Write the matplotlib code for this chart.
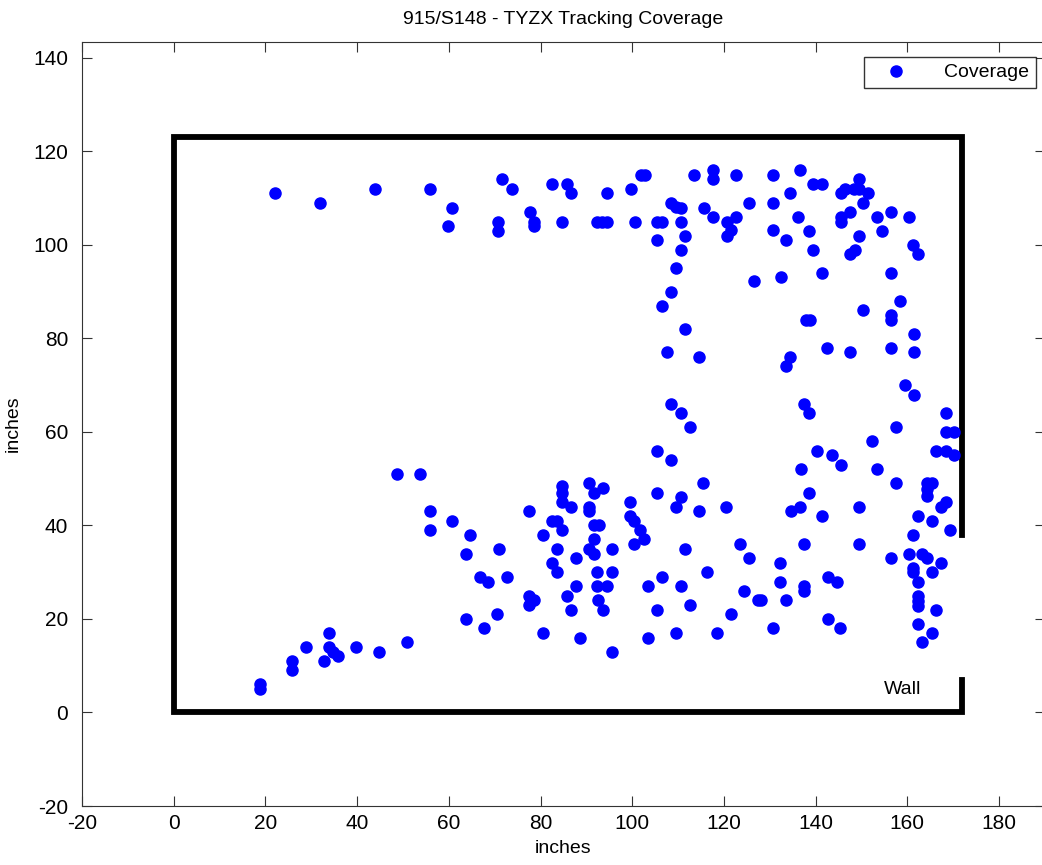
import matplotlib
matplotlib.use("Agg")
import matplotlib.pyplot as plt
from matplotlib import font_manager

# ---------------- data ----------------
title = "915/S148 - TYZX Tracking Coverage"
x_label = "inches"
y_label = "inches"
series_name = "Coverage"
wall_label = "Wall"

cov_x = [
    22, 32, 44, 56, 60.6, 59.8, 71.5, 70.7, 70.7, 73.7, 82.6, 85.7, 86.6, 94.6, 99.7, 101.9, 102.7,
    113.5, 117.6, 117.6, 122.6, 130.6, 136.6, 134.4, 125.5, 130.6, 136.2, 77.7, 78.6, 78.6, 84.6,
    92.4, 93.5, 94.6, 100.6, 105.5, 106.6, 110.6, 108.5, 109.5, 110.6, 115.6, 117.6, 120.6, 121.6,
    120.6, 122.6, 130.6, 133.5, 105.5, 111.5, 110.6, 109.5, 126.6, 132.4,
    139.5, 141.4, 145.5, 146.4, 148.4, 149.5, 149.5, 151.4, 150.4, 145.5, 145.5, 147.5, 153.5,
    156.4, 160.4, 138.6, 149.5, 154.4, 139.5, 147.5, 148.5, 161.3, 162.3, 141.4, 156.4, 158.3,
    150.4, 156.4, 156.4, 137.8, 138.8,
    108.5, 106.6, 111.5, 107.5, 114.5, 108.5, 110.6, 112.6, 105.5, 108.5, 142.4, 134.4, 133.5,
    137.5, 138.5, 140.4, 143.5,
    161.5, 147.5, 156.4, 161.5, 159.4, 161.5, 168.4, 168.4, 170.2, 157.5, 152.4, 145.5, 166.2,
    168.4, 170.2, 136.8, 153.5, 157.5, 164.4, 165.4, 164.4, 164.4, 138.6, 168.4,
    167.3, 136.5, 134.6, 141.4, 149.5, 162.3, 165.3, 169.3, 161.3, 137.5, 149.5, 156.4, 160.4,
    163.3, 164.4, 167.3, 161.3, 161.3, 165.3, 162.3, 162.3, 162.3, 162.3, 166.3, 162.3, 165.3,
    163.3, 132.2, 132.2, 137.5, 137.5, 142.6, 144.6, 128, 133.5, 142.6, 145.3, 130.6,
    48.8, 53.7, 55.8, 55.8, 60.7, 64.6, 63.7, 70.9, 66.7, 68.6, 63.7, 67.7, 70.6, 18.8, 18.8,
    25.9, 25.9, 28.8, 33.9, 33.9, 34.8, 35.8, 32.8, 39.8, 44.8, 50.8,
    115.5, 105.5, 110.6, 109.6, 114.6, 120.5, 90.6, 91.7, 93.7, 84.6, 84.6, 84.6, 86.6, 90.6,
    90.6, 77.6, 82.6, 83.5, 84.6, 80.6, 91.7, 92.8, 91.7, 90.6, 91.7, 95.7, 99.5, 99.5, 100.5,
    101.6, 102.6, 100.5, 83.7, 87.7, 82.6, 83.7, 72.6, 92.4, 95.7, 87.7, 92.4, 94.6, 77.6, 78.6,
    77.6, 85.7, 92.6, 86.6, 93.6, 80.6, 88.6, 95.7, 106.6, 103.5, 110.6, 111.5, 116.4, 123.5,
    125.5, 105.5, 112.5, 124.4, 127.4, 121.5, 103.5, 109.6, 118.6,
]
cov_y = [
    111, 109, 112, 112, 108, 104, 114, 105, 103, 112, 113, 113, 111, 111, 112, 115, 115,
    115, 116, 114, 115, 115, 116, 111, 109, 109, 106, 107, 105, 104, 105,
    105, 105, 105, 105, 105, 105, 105, 109, 108.2, 108, 108, 106, 105, 103.2,
    102, 106, 103.2, 101, 101, 102, 99, 95, 92.3, 93.2,
    113, 113, 111, 112, 112, 114, 112, 111, 109, 106, 105, 107, 106,
    107, 106, 103, 102, 103, 99, 98, 99, 100, 98, 94, 94, 88,
    86, 85, 84, 84, 84,
    90, 87, 82, 77, 76, 66, 64, 61, 56, 54, 78, 76, 74,
    66, 64, 56, 55,
    81, 77, 78, 77, 70, 68, 64, 60, 60, 61, 58, 53, 56,
    56, 55, 52, 52, 49, 49, 49, 47.8, 46.3, 47, 45,
    44, 44, 43, 42, 44, 42, 41, 39, 38, 36, 36, 33, 34,
    34, 33, 32, 31, 30, 30, 28, 25, 23.8, 22.7, 22, 19, 17,
    15, 32, 28, 27, 26, 29, 28, 24, 24, 20, 18, 18,
    51, 51, 43, 39, 41, 38, 34, 35, 29, 28, 20, 18, 21, 6, 5,
    11, 9, 14, 17, 14, 13, 12, 11, 14, 13, 15,
    49, 47, 46, 44, 43, 44, 49, 47, 48, 48.4, 47, 45, 44, 44,
    43, 43, 41, 41, 39, 38, 40, 40, 37, 35, 34, 35, 45, 42, 41,
    39, 37, 36, 35, 33, 32, 30, 29, 30, 30, 27, 27, 27, 25, 24,
    23, 25, 24, 22, 22, 17, 16, 13, 29, 27, 27, 35, 30, 36,
    33, 22, 23, 26, 24, 21, 16, 17, 17,
]

# wall outline (data coordinates of the drawn room boundary)
wall_x = [172, 172, 0, 0, 172, 172]
wall_y = [38, 123, 123, 0, 0, 7]
wall_text_pos = (159, 5)

x_ticks = [-20, 0, 20, 40, 60, 80, 100, 120, 140, 160, 180]
y_ticks = [-20, 0, 20, 40, 60, 80, 100, 120, 140]
x_lim = (-20, 190)
y_lim = (-20, 143.4)

# ---------------- style ----------------
avail = {f.name for f in font_manager.fontManager.ttflist}
fam = [f for f in ["Liberation Sans Narrow", "Liberation Sans", "DejaVu Sans"] if f in avail]
plt.rcParams["font.family"] = fam
plt.rcParams["axes.unicode_minus"] = False

W, H = 1042, 865
fig = plt.figure(figsize=(W / 100, H / 100), dpi=100)
left_px, bottom_px, top_px = 82, 806, 42
right_px = 82 + (x_lim[1] - x_lim[0]) * 4.585
ax = fig.add_axes([left_px / W, (H - bottom_px) / H,
                   (right_px - left_px) / W, (bottom_px - top_px) / H])

ax.plot(wall_x, wall_y, color="black", lw=4.2, solid_joinstyle="miter",
        solid_capstyle="projecting", zorder=2)
ax.plot(cov_x, cov_y, linestyle="none", marker="o", markersize=8,
        color="#0000ff", markeredgecolor="#0000ff", label=series_name, zorder=3)

ax.text(wall_text_pos[0], wall_text_pos[1], wall_label, fontsize=14,
        ha="center", va="center", color="black")

ax.set_xlim(*x_lim)
ax.set_ylim(*y_lim)
ax.set_xticks(x_ticks)
ax.set_yticks(y_ticks)
ax.tick_params(direction="in", length=7, width=0.8, labelsize=15,
               top=True, right=True, color="#333333")
ax.tick_params(axis="x", pad=6)
ax.tick_params(axis="y", pad=10)
for s in ax.spines.values():
    s.set_linewidth(0.8)
    s.set_color("#333333")

ax.set_title(title, fontsize=14, pad=13)
ax.set_xlabel(x_label, fontsize=14, labelpad=5)
ax.set_ylabel(y_label, fontsize=14, labelpad=8)

leg = ax.legend(loc="upper right", bbox_to_anchor=(1036 / W, 1 - 57 / H),
                bbox_transform=fig.transFigure, borderaxespad=0,
                fancybox=False, edgecolor="black", fontsize=14,
                handletextpad=1.2, borderpad=0.35, handlelength=2.6, markerscale=1)
leg.get_frame().set_linewidth(1.0)

fig.savefig("out.png", dpi=100)
